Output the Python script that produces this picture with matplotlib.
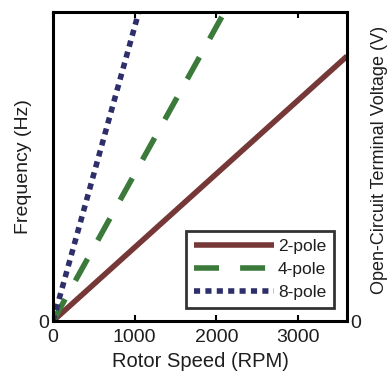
import numpy as np
import matplotlib.pyplot as plt

# rotor speed (RPM) and frequency (Hz) for each pole count
rpm = [0, 3600]
freq_2pole = [0, 60]
freq_4pole = [0, 120]
freq_8pole = [0, 240]
labels = ['2-pole', '4-pole', '8-pole']
x_ticks = [0, 1000, 2000, 3000]

plt.rcParams['font.family'] = ['Arial', 'Liberation Sans', 'DejaVu Sans']
txt = '#1e1e1e'

fig = plt.figure(figsize=(3.91, 3.74), dpi=100)
ax = fig.add_axes([53 / 391, 1 - 321 / 374, 294 / 391, 309 / 374])

lw = 4.0
ax.plot(rpm, freq_2pole, color='#763737', lw=lw, solid_capstyle='butt', label=labels[0])
ax.plot(rpm, freq_4pole, color='#3b7a3b', lw=lw, dashes=(4.5, 3.8), label=labels[1])
ax.plot(rpm, freq_8pole, color='#2e2e6b', lw=lw, dashes=(1.1, 0.95), label=labels[2])

ax.set_xlim(0, 3600)
ax.set_ylim(0, 70)
ax.set_xticks(x_ticks)
ax.set_yticks([0])
ax.tick_params(direction='in', length=4, width=1.5, labelsize=14, top=True, pad=6,
               labelcolor=txt)
ax.tick_params(axis='y', pad=3)
for s in ax.spines.values():
    s.set_linewidth(2.2)

ax2 = ax.twinx()
ax2.set_ylim(0, 70)
ax2.set_yticks([0])
ax2.tick_params(direction='in', length=0, labelsize=14, pad=2, labelcolor=txt)

ax.set_xlabel('Rotor Speed (RPM)', fontsize=14.5, labelpad=4, color=txt)
ax.set_ylabel('Frequency (Hz)', fontsize=14, labelpad=4, color=txt)
fig.text(379 / 391, 1 - 160 / 374, 'Open-Circuit Terminal Voltage (V)', rotation=90,
         ha='center', va='center', fontsize=13, color=txt)

leg = ax.legend(loc='lower right', fontsize=12.5, handlelength=4.6, frameon=True,
                fancybox=False, edgecolor='black', borderaxespad=0.75,
                labelspacing=0.45, handletextpad=0.25, borderpad=0.45)
leg.get_frame().set_linewidth(2.0)
for t in leg.get_texts():
    t.set_color(txt)

plt.savefig('out.png', dpi=100)
